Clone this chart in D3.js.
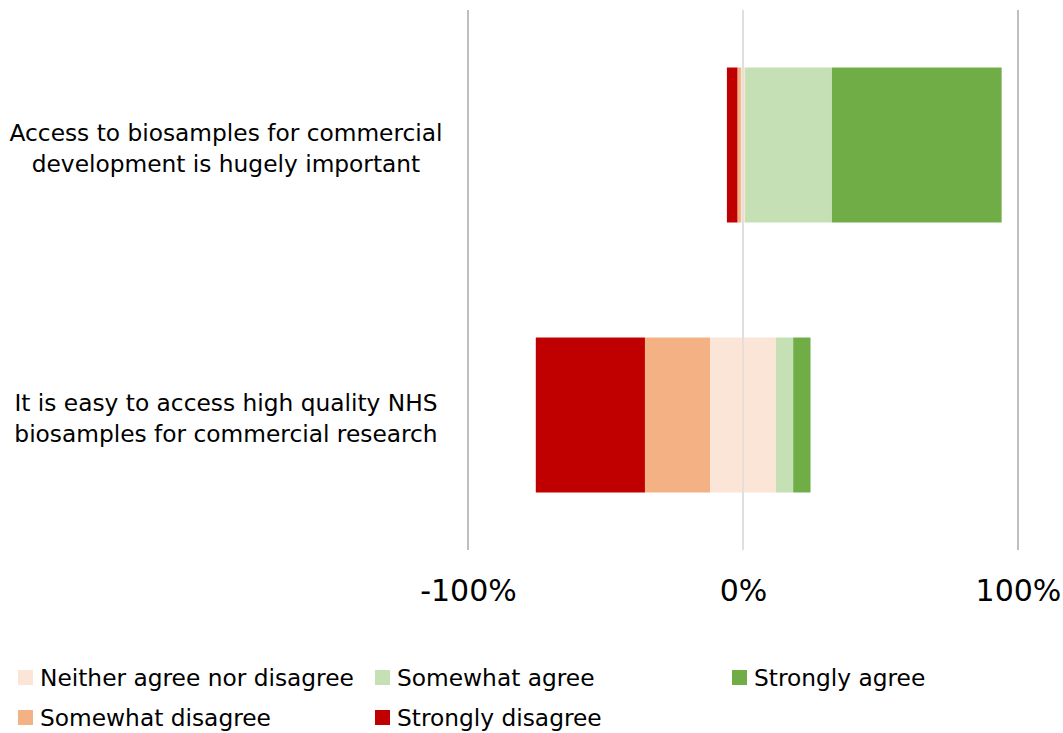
<!DOCTYPE html>
<html>
<head>
<meta charset="utf-8">
<script src="https://cdn.jsdelivr.net/npm/d3@7"></script>
<style>
  body { margin: 0; background: #fff; }
  text { font-family: "DejaVu Sans", Verdana, sans-serif; fill: #000; }
</style>
</head>
<body>
<div id="chart"></div>
<script>
// survey statements, top to bottom
const categories = [
  ['Access to biosamples for commercial', 'development is hugely important'],
  ['It is easy to access high quality NHS', 'biosamples for commercial research']
]
const stronglyDisagree = [0.039, 0.397]
const somewhatDisagree = [0.012, 0.237]
const neither = [0.015, 0.239]
const somewhatAgree = [0.316, 0.063]
const stronglyAgree = [0.617, 0.063]
const xTicks = [-1, 0, 1]

const colors = {
  sd: '#c00000', swd: '#f4b183', n: '#fbe5d6', swa: '#c5e0b4', sa: '#70ad47'
}

const W = 1063, H = 733

const svg = d3.select('#chart').append('svg')
    .attr('width', W)
    .attr('height', H)

const x = d3.scaleLinear().domain([-1, 1]).range([468, 1018])
const y = d3.scaleBand()
    .domain(d3.range(categories.length))
    .range([10, 550])
    .paddingInner(0.426)
    .paddingOuter(0.213)

// gridlines
svg.append('g').selectAll('line')
    .data(xTicks)
  .enter().append('line')
    .attr('x1', d => x(d)).attr('x2', d => x(d))
    .attr('y1', 10).attr('y2', 550)
    .attr('stroke', d => d === 0 ? '#d9d9d9' : '#bfbfbf')
    .attr('stroke-width', d => d === 0 ? 1.2 : 2)

// build diverging segments: neutral split across zero
const segs = []
categories.forEach((c, i) => {
  let left = -(stronglyDisagree[i] + somewhatDisagree[i] + neither[i] / 2)
  const parts = [
    [stronglyDisagree[i], colors.sd],
    [somewhatDisagree[i], colors.swd],
    [neither[i], colors.n],
    [somewhatAgree[i], colors.swa],
    [stronglyAgree[i], colors.sa]
  ]
  parts.forEach(p => {
    segs.push({ i, x0: left, x1: left + p[0], color: p[1] })
    left += p[0]
  })
})

svg.append('g').selectAll('rect')
    .data(segs)
  .enter().append('rect')
    .attr('x', d => x(d.x0))
    .attr('width', d => x(d.x1) - x(d.x0))
    .attr('y', d => y(d.i))
    .attr('height', y.bandwidth())
    .attr('fill', d => d.color)

// zero line over the bars
svg.append('line')
    .attr('x1', x(0)).attr('x2', x(0))
    .attr('y1', 10).attr('y2', 550)
    .attr('stroke', '#d9d9d9')
    .attr('stroke-width', 1.2)

// category labels
const lab = svg.append('g').selectAll('text')
    .data(categories)
  .enter().append('text')
    .attr('text-anchor', 'middle')
    .attr('font-size', 23.3)
lab.selectAll('tspan')
    .data((d, i) => d.map((t, k) => ({ t, k, i })))
  .enter().append('tspan')
    .attr('x', 226)
    .attr('y', d => y(d.i) + y.bandwidth() / 2 - 4 + d.k * 31)
    .text(d => d.t)

// x axis labels
const xAxis = d3.axisBottom(x)
    .tickValues(xTicks)
    .tickSize(0)
    .tickPadding(0)
    .tickFormat(d3.format('.0%'))

const ax = svg.append('g')
    .attr('transform', 'translate(0,580)')
    .call(xAxis)
ax.select('.domain').remove()
ax.selectAll('text')
    .attr('font-size', 30)
    .attr('font-family', '"DejaVu Sans Condensed", "DejaVu Sans", sans-serif')
    .attr('fill', '#000')
    .text(d => (d < 0 ? '-' : '') + d3.format('.0%')(Math.abs(d)))

// legend
const legendItems = [
  { label: 'Neither agree nor disagree', color: colors.n, col: 0, row: 0 },
  { label: 'Somewhat agree', color: colors.swa, col: 1, row: 0 },
  { label: 'Strongly agree', color: colors.sa, col: 2, row: 0 },
  { label: 'Somewhat disagree', color: colors.swd, col: 0, row: 1 },
  { label: 'Strongly disagree', color: colors.sd, col: 1, row: 1 }
]
const lg = svg.append('g').selectAll('g')
    .data(legendItems)
  .enter().append('g')
    .attr('transform', d => 'translate(' + (18 + d.col * 357) + ',' + (678 + d.row * 40) + ')')
lg.append('rect')
    .attr('x', 0).attr('y', -8)
    .attr('width', 15).attr('height', 15)
    .attr('fill', d => d.color)
lg.append('text')
    .attr('x', 22)
    .attr('dy', '0.35em')
    .attr('font-size', 23.3)
    .attr('font-family', '"DejaVu Sans Condensed", "DejaVu Sans", sans-serif')
    .text(d => d.label)
</script>
</body>
</html>
